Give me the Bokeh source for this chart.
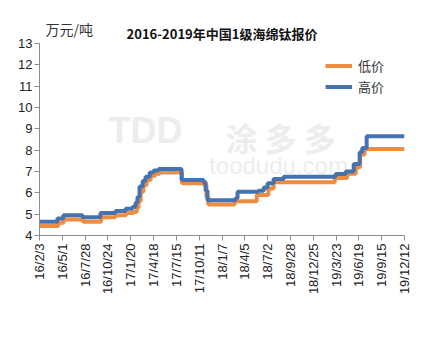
import math
from datetime import datetime, timedelta
from bokeh.plotting import figure
from bokeh.models import Range1d, FixedTicker, DatetimeTickFormatter, Label
from bokeh.embed import file_html
from bokeh.resources import INLINE

title_text = "2016-2019年中国1级海绵钛报价"
unit_text = "万元/吨"
series_names = ["低价", "高价"]

tick_labels = ["16/2/3", "16/5/1", "16/7/28", "16/10/24", "17/1/20", "17/4/18",
               "17/7/15", "17/10/11", "18/1/7", "18/4/5", "18/7/2", "18/9/28",
               "18/12/25", "19/3/23", "19/6/19", "19/9/15", "19/12/12"]
y_ticks = [4, 5, 6, 7, 8, 9, 10, 11, 12, 13]

high_dates = ["2016-02-03", "2016-04-12", "2016-05-05", "2016-07-18", "2016-09-25",
              "2016-11-22", "2016-12-31", "2017-01-27", "2017-02-08", "2017-02-15",
              "2017-02-23", "2017-03-07", "2017-03-18", "2017-04-03", "2017-04-18",
              "2017-05-07", "2017-08-04", "2017-10-28", "2017-11-05", "2017-11-12",
              "2018-02-28", "2018-03-08", "2018-05-27", "2018-06-17", "2018-07-02",
              "2018-07-25", "2018-09-02", "2019-03-21", "2019-04-29", "2019-05-30",
              "2019-06-22", "2019-07-02", "2019-07-19", "2019-12-12"]
high_values = [4.65, 4.8, 4.95, 4.85, 5.05,
               5.15, 5.25, 5.35, 5.55, 5.8,
               6.3, 6.55, 6.75, 6.95, 7.05,
               7.12, 6.6, 6.5, 6.1, 5.65,
               5.75, 6.05, 6.1, 6.25, 6.45,
               6.65, 6.75, 6.88, 7.0, 7.35,
               7.9, 8.1, 8.65, 8.65]

low_dates = ["2016-02-03", "2016-04-16", "2016-05-06", "2016-07-20", "2016-09-28",
             "2016-11-22", "2017-01-02", "2017-01-30", "2017-02-12", "2017-02-19",
             "2017-02-27", "2017-03-10", "2017-03-22", "2017-04-07", "2017-04-24",
             "2017-05-12", "2017-08-06", "2017-10-30", "2017-11-08", "2017-11-15",
             "2018-02-25", "2018-05-21", "2018-07-05", "2018-07-25", "2019-03-18",
             "2019-05-05", "2019-06-07", "2019-06-24", "2019-07-11", "2019-12-12"]
low_values = [4.45, 4.6, 4.75, 4.65, 4.85,
              4.95, 5.05, 5.1, 5.3, 5.6,
              6.05, 6.35, 6.6, 6.8, 6.9,
              6.95, 6.45, 6.35, 5.8, 5.45,
              5.6, 5.9, 6.2, 6.5, 6.7,
              6.9, 7.2, 7.8, 8.05, 8.05]

LOW_COLOR = "#EE8C3F"
HIGH_COLOR = "#4672B0"
AXIS_COLOR = "#8c8c8c"
WATERMARK = "#ededed"
CJK = "Noto Sans CJK SC"


def parse_date(s):
    return datetime.strptime(s, "%Y-%m-%d")


def parse_tick(lbl):
    yy, mm, dd = lbl.split("/")
    return datetime(2000 + int(yy), int(mm), int(dd))


tick_dt = [parse_tick(l) for l in tick_labels]
epoch = datetime(1970, 1, 1)
tick_ms = [int((t - epoch).total_seconds() * 1000) for t in tick_dt]

# layout: frame extended above the top tick so that title texts fit inside it
W, H = 432, 359
left, right, top, bottom = 39, 28, 10, 124
axis_top_px = 43                       # pixel row of the "13" tick
px_per_unit = (H - bottom - axis_top_px) / (y_ticks[-1] - y_ticks[0])
y_end = y_ticks[-1] + (axis_top_px - top) / px_per_unit

p = figure(width=W, height=H, x_axis_type="datetime",
           output_backend="svg", toolbar_location=None,
           x_range=Range1d(tick_dt[0], tick_dt[-1]),
           y_range=Range1d(y_ticks[0], y_end),
           min_border_left=left, min_border_right=right,
           min_border_top=top, min_border_bottom=bottom)

start = tick_dt[0]


def day(n):
    return start + timedelta(days=n)


# watermark (faint)
p.add_layout(Label(x=day(409), y=8.9, text="TDD", text_font="Liberation Sans",
                   text_font_style="bold", text_font_size="36px", text_color=WATERMARK,
                   text_align="center", text_baseline="middle", level="underlay"))
p.add_layout(Label(x=day(930), y=8.6, text="涂 多 多", text_font=CJK,
                   text_font_style="bold", text_font_size="32px", text_color=WATERMARK,
                   text_align="center", text_baseline="middle", level="underlay"))
p.add_layout(Label(x=day(922), y=7.3, text="toodudu.com", text_font="Liberation Sans",
                   text_font_size="24px", text_color=WATERMARK,
                   text_align="center", text_baseline="middle", level="underlay"))

p.step([parse_date(s) for s in low_dates], low_values, mode="after",
       line_width=4, color=LOW_COLOR, legend_label=series_names[0])
p.step([parse_date(s) for s in high_dates], high_values, mode="after",
       line_width=4, color=HIGH_COLOR, legend_label=series_names[1])

p.xaxis.ticker = FixedTicker(ticks=tick_ms)
p.xaxis.formatter = DatetimeTickFormatter(days="%y/%m/%d", months="%y/%m/%d", years="%y/%m/%d")
p.xaxis.major_label_overrides = {ms: lbl for ms, lbl in zip(tick_ms, tick_labels)}
p.xaxis.major_label_orientation = math.pi / 2
p.yaxis.ticker = FixedTicker(ticks=y_ticks)
p.yaxis.bounds = (y_ticks[0], y_ticks[-1])

for ax in (p.xaxis[0], p.yaxis[0]):
    ax.axis_line_color = AXIS_COLOR
    ax.major_tick_line_color = AXIS_COLOR
    ax.major_tick_out = 5
    ax.major_tick_in = 0
    ax.minor_tick_line_color = None
    ax.major_label_text_font = "Liberation Sans"
    ax.major_label_text_font_size = "13px"
    ax.major_label_text_color = "#222222"
p.yaxis.major_label_standoff = 2
p.xaxis.major_label_standoff = 3

p.xgrid.visible = False
p.ygrid.visible = False
p.outline_line_color = None

p.add_layout(Label(x=day(704), y=13 + 10 / px_per_unit, text=title_text, text_font=CJK,
                   text_font_style="bold", text_font_size="13px", text_color="#111111",
                   text_align="center", text_baseline="middle"))
p.add_layout(Label(x=day(23), y=13 + 15 / px_per_unit, text=unit_text, text_font=CJK,
                   text_font_size="14px", text_color="#333333",
                   text_align="left", text_baseline="middle"))

lg = p.legend[0]
lg.location = (286, 138)
lg.padding = 0
lg.margin = 0
lg.spacing = 0
lg.glyph_width = 27
lg.glyph_height = 21
lg.label_height = 21
lg.label_standoff = 6
lg.label_text_font = CJK
lg.label_text_font_size = "13px"
lg.label_text_color = "#333333"
lg.background_fill_alpha = 0
lg.border_line_color = None

open("out.html", "w").write(file_html(p, INLINE))
